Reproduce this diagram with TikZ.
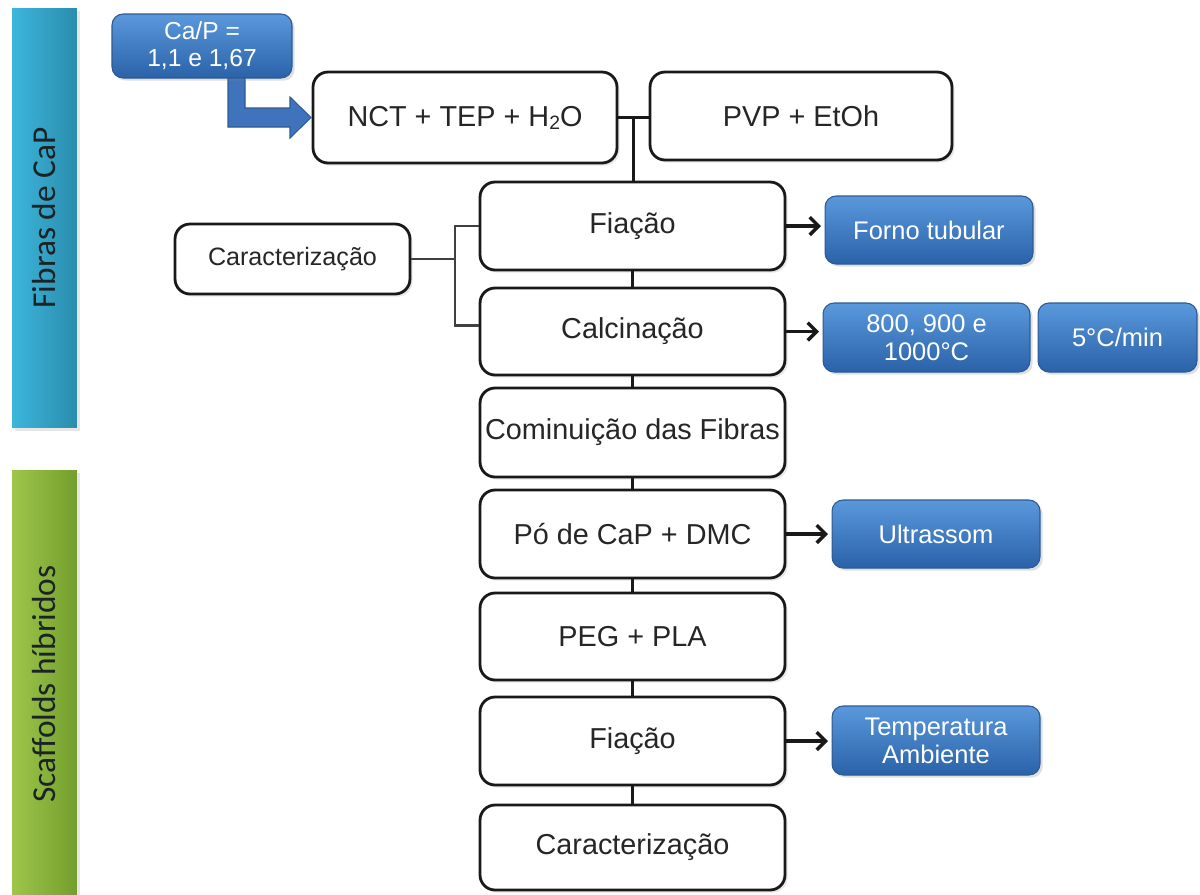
\documentclass[tikz,border=0pt]{standalone}
\usepackage{fontspec}
\setmainfont{Liberation Sans}
\newfontfamily\calib{Carlito}
\usetikzlibrary{shadows,arrows.meta,calc}
\definecolor{textgray}{HTML}{262626}
\definecolor{bluetop}{HTML}{5A98DC}
\definecolor{bluebot}{HTML}{2A62A8}
\definecolor{blueedge}{HTML}{2B5A94}
\definecolor{arrowblue}{HTML}{3F74BC}
\definecolor{tealL}{HTML}{3DB6DC}
\definecolor{tealD}{HTML}{2A8CAC}
\definecolor{greenL}{HTML}{9DC64A}
\definecolor{greenD}{HTML}{739E2C}
\definecolor{bartext}{HTML}{1B2326}
\begin{document}
\begin{tikzpicture}[x=0.02cm,y=-0.02cm,
  mainbox/.style={draw=black!90, line width=1.6pt, rounded corners=0.3cm, fill=white,
    text=textgray, font=\fontsize{16.4}{19}\selectfont, minimum width=6.1cm,
    minimum height=1.76cm, inner sep=1pt,
    drop shadow={opacity=0.18, shadow xshift=1.5pt, shadow yshift=-1.5pt}},
  bluebox/.style={draw=blueedge, line width=0.6pt, rounded corners=0.22cm,
    top color=bluetop, bottom color=bluebot, text=white, align=center,
    font=\fontsize{14.5}{16}\selectfont, inner sep=1pt,
    drop shadow={opacity=0.25, shadow xshift=1.5pt, shadow yshift=-1.5pt}},
  sidebar/.style={rotate=90, minimum height=1.3cm, text=bartext,
    font=\calib\fontsize{19}{22}\selectfont,
    drop shadow={opacity=0.2, shadow xshift=1.5pt, shadow yshift=-1.5pt}},
  link/.style={line width=1.8pt, draw=black!90},
  thinlink/.style={line width=1.3pt, draw=black!75},
  arr/.style={line width=2pt, draw=black!90, -{Straight Barb[length=5pt,width=10pt]}, shorten >=2pt}
]
\useasboundingbox (0,0) rectangle (1200,894);

% side bars
\node[sidebar, left color=tealL, right color=tealD, minimum width=8.4cm] (barA) at (44.5,218) {Fibras de CaP};
\node[sidebar, left color=greenL, right color=greenD, minimum width=8.56cm] (barB) at (44.5,684) {Scaffolds híbridos};

% bent blue arrow
\filldraw[fill=arrowblue, draw=blueedge, line width=0.6pt]
  (228,77) -- (228,127) -- (290,127) -- (290,138) -- (311,117.5) -- (290,97) -- (290,108) -- (245,108) -- (245,77) -- cycle;
\node[bluebox, minimum width=3.6cm, minimum height=1.28cm, font=\fontsize{14}{15.5}\selectfont] (cap) at (202,46) {Ca/P =\\1,1 e 1,67};

% main column
\node[mainbox, minimum width=6.08cm, minimum height=1.82cm] (nct) at (465,117.5) {NCT + TEP + H\raisebox{-0.1em}{\fontsize{11}{11}\selectfont 2}O};
\node[mainbox, minimum width=6.04cm] (pvp) at (801,116) {PVP + EtOh};
\node[mainbox] (fia1) at (632.5,226) {Fiação};
\node[mainbox, minimum height=1.74cm] (calc) at (632.5,331.5) {Calcinação};
\node[mainbox, minimum height=1.78cm] (comi) at (632.5,432.5) {Cominuição das Fibras};
\node[mainbox] (po) at (632.5,534) {Pó de CaP + DMC};
\node[mainbox, minimum height=1.74cm] (peg) at (632.5,636.5) {PEG + PLA};
\node[mainbox] (fia2) at (632.5,741) {Fiação};
\node[mainbox, minimum height=1.7cm] (car2) at (632.5,847.5) {Caracterização};

% left characterisation box
\node[mainbox, minimum width=4.7cm, minimum height=1.4cm, font=\fontsize{14.3}{17}\selectfont] (car1) at (292.5,259) {Caracterização};

% blue side boxes
\node[bluebox, minimum width=4.16cm, minimum height=1.36cm] (forno) at (929,230) {Forno tubular};
\node[bluebox, minimum width=4.14cm, minimum height=1.38cm] (temp) at (926.5,337.5) {800, 900 e\\1000°C};
\node[bluebox, minimum width=3.18cm, minimum height=1.38cm] (rate) at (1117.5,337.5) {5°C/min};
\node[bluebox, minimum width=4.16cm, minimum height=1.36cm] (ultra) at (936,534) {Ultrassom};
\node[bluebox, minimum width=4.16cm, minimum height=1.38cm] (amb) at (936,740.5) {Temperatura\\Ambiente};

% connectors top
\draw[link] (nct.east) -- (nct.east -| pvp.west);
\coordinate (m) at ($(nct.east)!0.5!(nct.east -| pvp.west)$);
\draw[link] (m) -- (m |- fia1.north);

% column connectors
\draw[link] (fia1.south) -- (calc.north);
\draw[link] (calc.south) -- (comi.north);
\draw[link] (comi.south) -- (po.north);
\draw[link] (po.south) -- (peg.north);
\draw[link] (peg.south) -- (fia2.north);
\draw[link] (fia2.south) -- (car2.north);

% characterisation bracket
\coordinate (j) at (455,259);
\draw[thinlink] (car1.east) -- (j);
\draw[thinlink] (fia1.west) -| (j) |- ($(calc.west)+(0,-6)$);

% arrows to blue boxes
\draw[arr] (fia1.east) -- (fia1.east -| forno.west);
\draw[arr] (calc.east) -- (calc.east -| temp.west);
\draw[arr] (po.east) -- (po.east -| ultra.west);
\draw[arr] (fia2.east) -- (fia2.east -| amb.west);
\end{tikzpicture}
\end{document}
